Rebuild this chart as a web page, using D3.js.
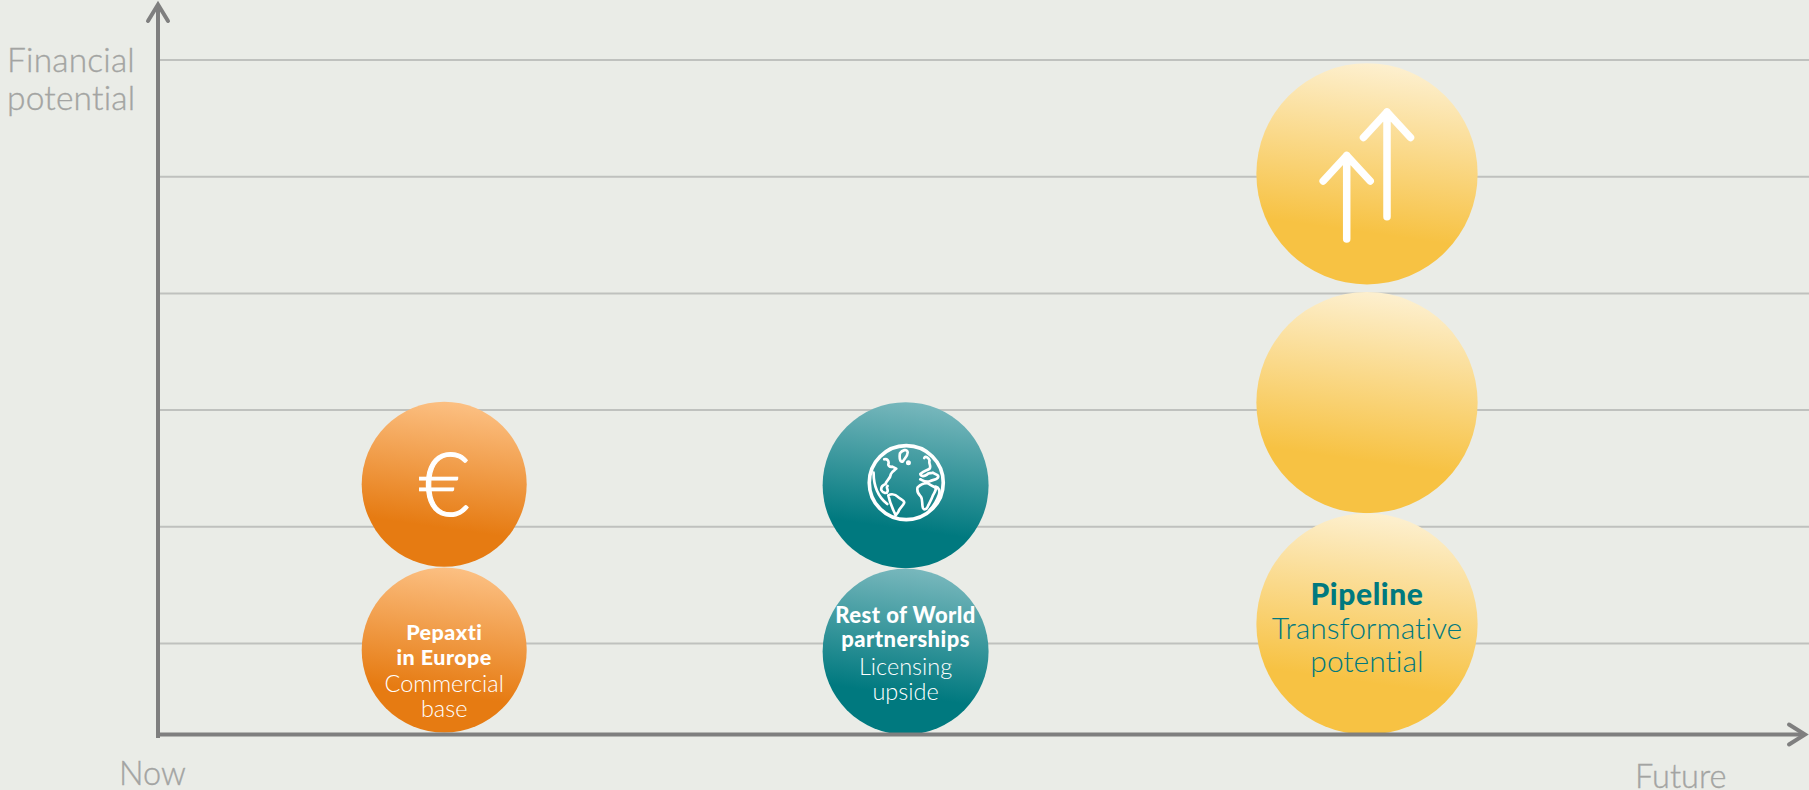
<!DOCTYPE html>
<html>
<head>
<meta charset="utf-8">
<script src="https://cdn.jsdelivr.net/npm/d3@7/dist/d3.min.js"></script>
<style>
html,body{margin:0;padding:0;background:#eaece7;overflow:hidden}
svg{display:block}
text{font-family:Lato,"Open Sans",sans-serif;font-variant-ligatures:none}
</style>
</head>
<body>
<svg id="chart" width="1809" height="790"></svg>
<script>
// Bubble stacks on a "time horizon vs. financial potential" frame
const gridLevels = [1, 2, 3, 4, 5, 6];
const bubbleHorizon = [0, 0, 1, 1, 2, 2, 2];
const bubbleLevel = [2.36, 0.94, 2.352, 0.927, 5.02, 3.06, 1.163];
const bubbleSize = [0.707, 0.707, 0.711, 0.711, 0.948, 0.948, 0.948];
const bubbleTheme = ["orange", "orange", "teal", "teal", "gold", "gold", "gold"];
const themeNames = ["orange", "teal", "gold"];
const themeTop = ["#fcc083", "#79b8bd", "#fdf0d0"];
const themeBottom = ["#e67b12", "#00797f", "#f7c243"];

const yAxisTitle = ["Financial", "potential"];
const xStartLabel = "Now";
const xEndLabel = "Future";

const captions = [
  {h: 0, lines: [["Pepaxti", 1], ["in Europe", 1], ["Commercial", 0], ["base", 0]]},
  {h: 1, lines: [["Rest of World", 1], ["partnerships", 1], ["Licensing", 0], ["upside", 0]]},
  {h: 2, lines: [["Pipeline", 1], ["Transformative", 0], ["potential", 0]]}
];

const width = 1809, height = 790;
const axisX = 158, axisY = 734.5;
const svg = d3.select("#chart");

const x = d3.scaleLinear().domain([0, 2]).range([444.2, 1367]);
const y = d3.scaleLinear().domain([1, 6]).range([643, 59.5]);
const unit = y(0) - y(1);

const defs = svg.append("defs");
themeNames.forEach((name, i) => {
  const g = defs.append("linearGradient").attr("id", "fill-" + name)
    .attr("x1", 0.57).attr("y1", 0).attr("x2", 0.43).attr("y2", 1);
  g.append("stop").attr("offset", 0).attr("stop-color", themeTop[i]);
  g.append("stop").attr("offset", 0.76).attr("stop-color", themeBottom[i]);
  g.append("stop").attr("offset", 1).attr("stop-color", themeBottom[i]);
});

svg.append("rect").attr("width", width).attr("height", height).attr("fill", "#eaece7");

// Horizontal guides
const grid = svg.append("g").attr("transform", `translate(${axisX},0)`)
  .call(d3.axisLeft(y).tickValues(gridLevels).tickSize(-(width - axisX)).tickFormat(""));
grid.select(".domain").remove();
grid.selectAll(".tick line").attr("stroke", "#bfc1be").attr("stroke-width", 2);

// Bubbles
svg.append("g").selectAll("circle")
  .data(bubbleLevel)
  .join("circle")
  .attr("cx", (d, i) => x(bubbleHorizon[i]))
  .attr("cy", d => y(d))
  .attr("r", (d, i) => bubbleSize[i] * unit)
  .attr("fill", (d, i) => `url(#fill-${bubbleTheme[i]})`);

// Axes with open arrowheads
const axes = svg.append("g").attr("fill", "none").attr("stroke", "#7f7f7f").attr("stroke-width", 4);
axes.append("path").attr("d", `M${axisX},738V4`);
axes.append("path").attr("d", `M${axisX},${axisY}H1805`);
axes.append("path").attr("stroke-linecap", "round").attr("stroke-linejoin", "miter")
  .attr("d", `M${axisX - 10},21L${axisX},4.5L${axisX + 10},21`);
axes.append("path").attr("stroke-linecap", "round")
  .attr("d", `M1789,${axisY - 10}L1805,${axisY}L1789,${axisY + 10}`);

// Axis wording, thickened slightly so the light weight holds up
const muted = "#a3a4a2";
const axisText = svg.append("g").attr("font-size", 33.5).attr("font-weight", 300)
  .attr("fill", muted).attr("stroke", muted).attr("stroke-width", 0.35);
axisText.selectAll("text.title").data(yAxisTitle).join("text").attr("class", "title")
  .attr("x", 7).attr("y", (d, i) => 72 + i * 38).attr("letter-spacing", 0.2).text(d => d);
axisText.append("text").attr("x", 119).attr("y", 785).attr("font-size", 32.5).text(xStartLabel);
axisText.append("text").attr("x", 1635).attr("y", 788).attr("font-size", 32.5).text(xEndLabel);

// Captions inside the lowest bubble of every stack
const captionBaselines = [[640, 665, 692, 717], [622.7, 647, 675, 700], [604.5, 639, 671.5]];
const captionSizes = [[21.5, 21.5, 23.5, 23.5], [22, 22, 23.5, 23.5], [30, 30, 30]];
const captionSpacing = [0.45, 0.45, 0.6];
const captionFill = ["#ffffff", "#ffffff", "#00797f"];
captions.forEach((c, ci) => {
  svg.append("g").attr("text-anchor", "middle").attr("fill", captionFill[ci])
    .selectAll("text").data(c.lines).join("text")
    .attr("x", x(c.h))
    .attr("y", (d, i) => captionBaselines[ci][i])
    .attr("font-size", (d, i) => captionSizes[ci][i])
    .attr("font-weight", d => d[1] ? 900 : 300)
    .attr("letter-spacing", d => d[1] ? captionSpacing[ci] : 0)
    .text(d => d[0]);
});

// Euro sign
svg.append("text").attr("x", x(0)).attr("y", 516).attr("text-anchor", "middle")
  .attr("font-size", 88).attr("font-weight", 300).attr("fill", "#fff")
  .attr("stroke", "#fff").attr("stroke-width", 1.1).text("€");

// Globe outline
const globe = svg.append("g")
  .attr("transform", `translate(${x(1) - 56},${430}) scale(0.3333)`)
  .attr("fill", "none").attr("stroke", "#fff").attr("stroke-linejoin", "round").attr("stroke-linecap", "round");
globe.append("circle").attr("cx", 170).attr("cy", 158).attr("r", 111).attr("stroke-width", 11);
globe.append("path").attr("stroke-width", 8).attr("d", [
  "M72,128C72,165 85,200 113,222",
  "M104,88C112,85 118,92 117,100C114,106 120,112 128,110L140,116C134,122 128,124 124,132C122,148 110,150 108,162C100,165 94,172 95,180C100,190 112,192 114,184C116,176 108,172 114,168",
  "M151,70C158,60 172,56 174,66C176,76 166,84 160,94C154,98 148,90 151,70Z",
  "M173,98a3.5,3.5 0 1,0 7,0a3.5,3.5 0 1,0 -7,0",
  "M116,196C124,192 136,192 144,200C152,208 164,210 164,218C160,230 150,232 146,246L138,256C132,240 122,226 116,196Z",
  "M224,84C228,76 238,84 240,92C236,100 246,108 240,116C232,122 226,120 212,132C214,140 224,140 232,134C238,126 244,132 250,128C256,134 266,132 266,140C264,150 252,148 240,154C226,158 218,150 212,148",
  "M204,172C212,164 226,158 236,160C240,166 250,168 256,172C262,176 256,186 250,196C246,208 240,218 236,226C232,238 224,242 220,234C216,222 220,208 214,200C208,194 200,188 204,172Z",
  "M258,170C268,172 272,182 268,194C262,212 252,228 240,240"
].join(""));

// Rising arrows in the top bubble
const arrowTips = [[1346.7, 155.5, 239], [1387, 112, 216.7]];
svg.append("g").attr("fill", "none").attr("stroke", "#fff").attr("stroke-width", 7.5)
  .attr("stroke-linecap", "round").attr("stroke-linejoin", "round")
  .selectAll("path").data(arrowTips).join("path")
  .attr("d", ([ax, tip, end]) => `M${ax},${end}V${tip}M${ax - 23.5},${tip + 25.5}L${ax},${tip}L${ax + 23.5},${tip + 25.5}`);
</script>
</body>
</html>
